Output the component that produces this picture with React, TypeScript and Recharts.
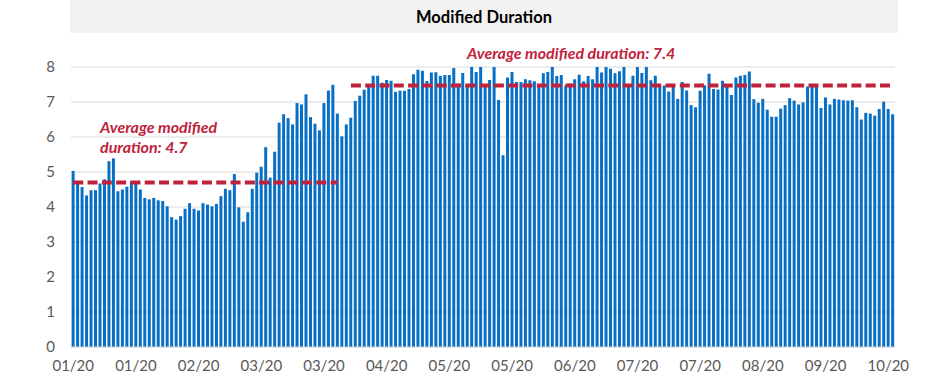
import React from 'react';
import { ComposedChart, Bar, Line, XAxis, YAxis, CartesianGrid } from 'recharts';

// daily modified duration, one value per trading day
const durations: number[] = [
  5.03, 4.72, 4.57, 4.33, 4.48, 4.48, 4.67, 4.79, 5.31, 5.39,
  4.45, 4.50, 4.58, 4.73, 4.73, 4.50, 4.26, 4.22, 4.26, 4.19,
  4.17, 4.02, 3.71, 3.64, 3.74, 3.95, 4.11, 3.95, 3.90, 4.11,
  4.07, 4.02, 4.09, 4.31, 4.52, 4.48, 4.94, 3.99, 3.58, 3.85,
  4.52, 4.98, 5.15, 5.71, 4.84, 5.58, 6.41, 6.65, 6.54, 6.36,
  6.97, 6.93, 7.22, 6.57, 6.38, 6.19, 6.97, 7.33, 7.49, 6.67,
  6.02, 6.36, 6.55, 7.03, 7.18, 7.35, 7.45, 7.75, 7.75, 7.55,
  7.63, 7.61, 7.29, 7.32, 7.32, 7.37, 7.79, 7.92, 7.89, 7.60,
  7.84, 7.85, 7.74, 7.77, 7.77, 7.97, 7.53, 7.83, 7.48, 8.00,
  7.86, 8.00, 7.47, 7.63, 8.00, 7.06, 5.48, 7.70, 7.86, 7.57,
  7.57, 7.65, 7.62, 7.59, 7.47, 7.82, 7.86, 8.00, 7.74, 7.77,
  7.47, 7.53, 7.65, 7.78, 7.59, 7.74, 7.65, 8.00, 7.84, 8.00,
  7.95, 7.82, 7.88, 8.00, 7.46, 7.75, 8.00, 7.83, 8.00, 7.62,
  7.75, 7.46, 7.47, 7.30, 7.45, 7.09, 7.57, 7.33, 6.91, 6.85,
  7.32, 7.48, 7.81, 7.37, 7.36, 7.61, 7.46, 7.20, 7.70, 7.75,
  7.77, 7.87, 7.08, 6.98, 7.09, 6.78, 6.58, 6.58, 6.81, 6.91,
  7.11, 7.04, 6.93, 6.99, 7.44, 7.45, 7.45, 6.83, 7.13, 6.93,
  7.09, 7.07, 7.05, 7.04, 7.05, 6.85, 6.50, 6.69, 6.67, 6.61,
  6.80, 7.01, 6.80, 6.65,
];

// one label every 14 bars
const tickLabels = ['01/20', '01/20', '02/20', '03/20', '03/20', '04/20', '05/20',
  '05/20', '06/20', '07/20', '07/20', '08/20', '09/20', '10/20'];
const tickStep = 14;

const yTicks = [0, 1, 2, 3, 4, 5, 6, 7, 8];

// average lines: value and the first/last bar they span
const firstAverage = 4.7;
const firstRange = [0, 59];
const secondAverage = 7.47;
const secondRange = [62, 183];

const data = durations.map((v, i) => ({
  i,
  duration: v,
  avg1: i >= firstRange[0] && i <= firstRange[1] ? firstAverage : null,
  avg2: i >= secondRange[0] && i <= secondRange[1] ? secondAverage : null,
}));

const FONT = 'Lato, "Open Sans", sans-serif';
const RED = '#C0223B';

const App: React.FC = () => {
  return (
    <div style={{ position: 'absolute', left: 0, top: 0, width: 944, height: 385, background: '#fff', fontFamily: FONT }}>
      <ComposedChart
        width={944}
        height={385}
        data={data}
        margin={{ top: 67, right: 49, left: 0, bottom: 8 }}
        barCategoryGap="14%"
      >
        <CartesianGrid vertical={false} stroke="#D9D9D9" />
        <XAxis
          dataKey="i"
          interval={tickStep - 1}
          tickFormatter={(v: number) => tickLabels[Math.round(v / tickStep)] ?? ''}
          tickLine={false}
          tickSize={0}
          tickMargin={13}
          axisLine={{ stroke: '#D9D9D9' }}
          height={30}
          tick={{ fill: '#595959', fontSize: 15, fontFamily: FONT }}
        />
        <YAxis
          domain={[0, 8]}
          ticks={yTicks}
          width={71}
          axisLine={false}
          tickLine={false}
          tickSize={0}
          tickMargin={16}
          tick={{ fill: '#595959', fontSize: 15, fontFamily: FONT }}
        />
        <Bar dataKey="duration" fill="#0870C4" isAnimationActive={false} />
        <Line
          dataKey="avg1"
          stroke={RED}
          strokeWidth={4}
          strokeDasharray="10 4.3"
          dot={false}
          activeDot={false}
          isAnimationActive={false}
        />
        <Line
          dataKey="avg2"
          stroke={RED}
          strokeWidth={4}
          strokeDasharray="10 4.3"
          dot={false}
          activeDot={false}
          isAnimationActive={false}
        />
      </ComposedChart>

      <svg width={944} height={385} style={{ position: 'absolute', left: 0, top: 0, pointerEvents: 'none' }}>
        <rect x={70} y={0} width={828} height={33} fill="#F2F2F2" />
        <text x={484} y={23} textAnchor="middle" fontFamily={FONT} fontWeight="bold" fontSize={16.5} fill="#000">
          Modified Duration
        </text>
        <text x={100} y={133} fontFamily={FONT} fontWeight="bold" fontStyle="italic" fontSize={16} fill={RED}>
          Average modified
        </text>
        <text x={100} y={153} fontFamily={FONT} fontWeight="bold" fontStyle="italic" fontSize={16} fill={RED}>
          duration: 4.7
        </text>
        <text x={467} y={59} fontFamily={FONT} fontWeight="bold" fontStyle="italic" fontSize={16} fill={RED}>
          Average modified duration: 7.4
        </text>
      </svg>
    </div>
  );
};

export default App;
